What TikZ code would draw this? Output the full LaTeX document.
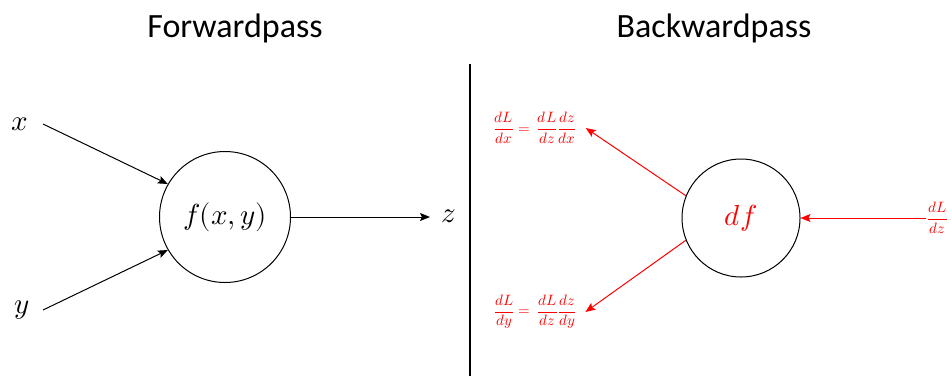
\documentclass[tikz,border=0pt]{standalone}
\usepackage{fontspec}
\setmainfont{Carlito}
\usepackage{unicode-math}
\setmathfont{Latin Modern Math}
\usetikzlibrary{arrows.meta}
\definecolor{bred}{RGB}{255,0,0}
\tikzset{
  conn/.style={line width=1pt,-{Stealth[length=10pt,width=8pt,inset=2pt]}},
  rconn/.style={conn,draw=bred},
  circ/.style={circle,draw,line width=1pt,minimum size=#1,inner sep=0pt},
  title/.style={font=\fontsize{34}{38}\selectfont},
  mlab/.style={font=\fontsize{29}{32}\selectfont},
  frm/.style={text=bred,font=\fontsize{15}{17}\selectfont,inner sep=1pt},
}
\begin{document}
\begin{tikzpicture}[x=1pt,y=-1pt]
\useasboundingbox (0,0) rectangle (952,376);
\node[title] (tf) at (235,28) {Forwardpass};
\node[title] (tb) at (714,28) {Backwardpass};
\coordinate (vt) at (470,64);
\coordinate (vb) at (470,376);
\draw[line width=1.5pt] (vt) -- (vb);
% forward
\node[circ=131pt] (f) at (225,217) {};
\node[mlab] at (f.center) {$f(x,y)$};
\node[mlab,anchor=center] (x) at (20,124) {$x$};
\node[mlab,anchor=center] (y) at (22,310) {$y$};
\node[mlab,anchor=center] (z) at (449,216) {$z$};
\coordinate (xs) at (43,124);
\coordinate (ys) at (43,310);
\draw[conn] (xs) -- (f.150);
\draw[conn] (ys) -- (f.-150);
\coordinate (ze) at (430,217);
\draw[conn] (f.east) -- (ze);
% backward
\node[circ=118pt] (b) at (741,218) {};
\node[mlab,text=bred] at (b.center) {$df$};
\node[frm] (gx) at (535,128) {$\displaystyle\frac{dL}{dx}=\,\frac{dL}{dz}\frac{dz}{dx}$};
\node[frm] (gy) at (535,312) {$\displaystyle\frac{dL}{dy}=\,\frac{dL}{dz}\frac{dz}{dy}$};
\node[frm,anchor=west] (gz) at (926,218) {$\displaystyle\frac{dL}{dz}$};
\draw[rconn] (gz.west) -- (b.east);
\draw[rconn] (b.158) -- ([xshift=8pt]gx.east);
\draw[rconn] (b.-158) -- ([xshift=8pt]gy.east);
\end{tikzpicture}
\end{document}
